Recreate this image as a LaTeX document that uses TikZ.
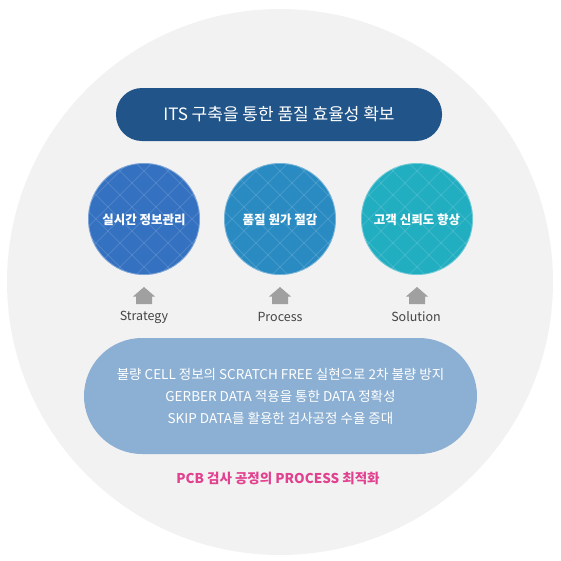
\documentclass[tikz,border=0pt]{standalone}
\usepackage{fontspec}
\setmainfont{Noto Sans CJK KR}
\usepackage{tikz}
\usetikzlibrary{calc}

\definecolor{bgGray}{HTML}{F2F2F2}
\definecolor{darkBlue}{HTML}{21558A}
\definecolor{cOne}{HTML}{3471C1}
\definecolor{cTwo}{HTML}{2A8BC3}
\definecolor{cThree}{HTML}{22AEC1}
\definecolor{pillBlue}{HTML}{8CB0D3}
\definecolor{roofGray}{HTML}{A0A0A0}
\definecolor{labelGray}{HTML}{444444}
\definecolor{pinkText}{HTML}{E2418F}

\tikzset{
  title/.style={fill=darkBlue, rounded corners=26pt, minimum width=326pt,
    minimum height=53pt, text=white, font=\fontsize{17}{20}\selectfont},
  circletext/.style={text=white, font=\fontsize{12.5}{15}\selectfont\bfseries},
  steplabel/.style={text=labelGray, font=\fontsize{12.5}{15}\selectfont},
  pill/.style={fill=pillBlue, rounded corners=58pt, minimum width=393pt,
    minimum height=116pt, text=white, align=center,
    font=\fontsize{13.5}{22}\selectfont}
}

\begin{document}
\begin{tikzpicture}[x=1pt,y=-1pt]
  \useasboundingbox (0,0) rectangle (561,560);
  \fill[bgGray] (280,282) circle (273);

  \node[title] (T) at (279,114.5) {ITS 구축을 통한 품질 효율성 확보};

  % three goals
  \foreach \n/\cx/\col/\txt in {S/144/cOne/실시간 정보관리,
      P/280/cTwo/품질 원가 절감, O/417/cThree/고객 신뢰도 향상}{
    \fill[\col] (\cx,219) circle (56);
    \begin{scope}
      \clip (\cx,219) circle (56);
      \foreach \d in {-168,-144,...,168}{
        \draw[white, opacity=0.13, line width=0.8pt] (\cx+\d-70,149) -- ++(140,140);
        \draw[white, opacity=0.13, line width=0.8pt] (\cx+\d+70,149) -- ++(-140,140);
      }
    \end{scope}
    \draw[white, opacity=0.35, line width=0.8pt] (\cx,219) circle (55.6);
    \node[circletext] (\n) at (\cx,220) {\txt};
    % small house arrow
    \fill[roofGray] (\cx,287) -- (\cx+11,296.5) -- (\cx+8,296.5) -- (\cx+8,304)
      -- (\cx-8,304) -- (\cx-8,296.5) -- (\cx-11,296.5) -- cycle;
  }

  \node[steplabel] (S1) at (144,317) {Strategy};
  \node[steplabel] (P1) at (280,317) {Process};
  \node[steplabel] (O1) at (416,317) {Solution};

  \node[pill] (B) at (280.5,396) {불량 CELL 정보의 SCRATCH FREE 실현으로 2차 불량 방지\\
    GERBER DATA 적용을 통한 DATA 정확성\\
    SKIP DATA를 활용한 검사공정 수율 증대};

  \node[text=pinkText, font=\fontsize{13.5}{16}\selectfont\bfseries] (R) at (278,478)
    {PCB 검사 공정의 PROCESS 최적화};
\end{tikzpicture}
\end{document}
